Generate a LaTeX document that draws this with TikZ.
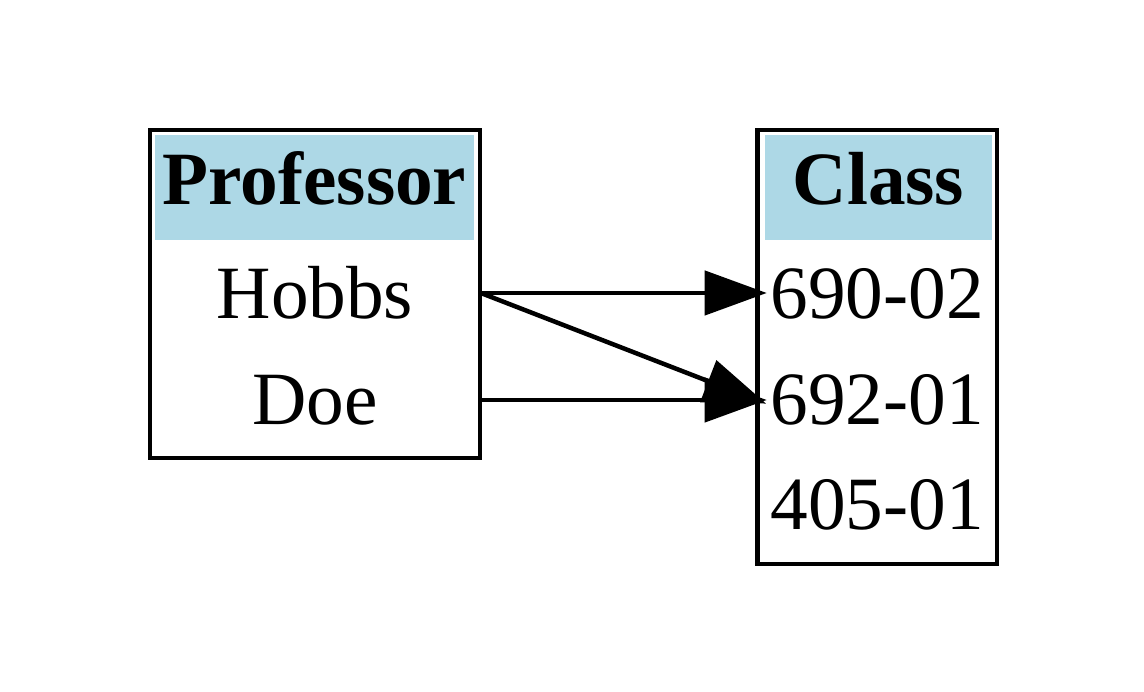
\documentclass[tikz,border=0pt]{standalone}
\usepackage{fontspec}
\setmainfont{Liberation Serif}
\usetikzlibrary{arrows.meta}
\definecolor{headblue}{HTML}{ADD8E6}
\begin{document}
\begin{tikzpicture}[x=0.01cm,y=-0.01cm,
		table/.style={draw,line width=0.045cm,inner sep=0pt},
		head/.style={fill=headblue,inner sep=0pt,minimum height=1.05cm,text height=0.55cm,text depth=0.2cm,font=\fontsize{21.4}{25}\selectfont\bfseries},
		row/.style={inner sep=0pt,minimum height=1.07cm,text height=0.7cm,text depth=0.2cm,font=\fontsize{21.4}{25}\selectfont},
		link/.style={line width=0.045cm,-{Triangle[length=0.62cm,width=0.44cm]},shorten >=-0.1cm}]
		\useasboundingbox (0,0) rectangle (1144,692);

		\node[table,minimum width=3.30cm,minimum height=3.28cm] (prof) at (315,294) {};
		\node[table,minimum width=2.395cm,minimum height=4.34cm] (class) at (877.25,347) {};

		\node[head,minimum width=3.19cm] (profhead) at (314.5,187.5) {Professor};
		\node[head,minimum width=2.27cm] (classhead) at (878.5,187.5) {Class};

		\node[row,minimum width=3.30cm] (hobbs) at (315,293) {Hobbs};
		\node[row,minimum width=3.30cm] (doe) at (315,400) {Doe};

		\node[row,minimum width=2.395cm] (c1) at (877.25,293) {690-02};
		\node[row,minimum width=2.395cm] (c2) at (877.25,400) {692-01};
		\node[row,minimum width=2.395cm] (c3) at (877.25,505) {405-01};

		\draw[link] (hobbs.east) -- (c1.west);
		\draw[link] (hobbs.east) -- (c2.west);
		\draw[link] (doe.east) -- (c2.west);
	\end{tikzpicture}
\end{document}
